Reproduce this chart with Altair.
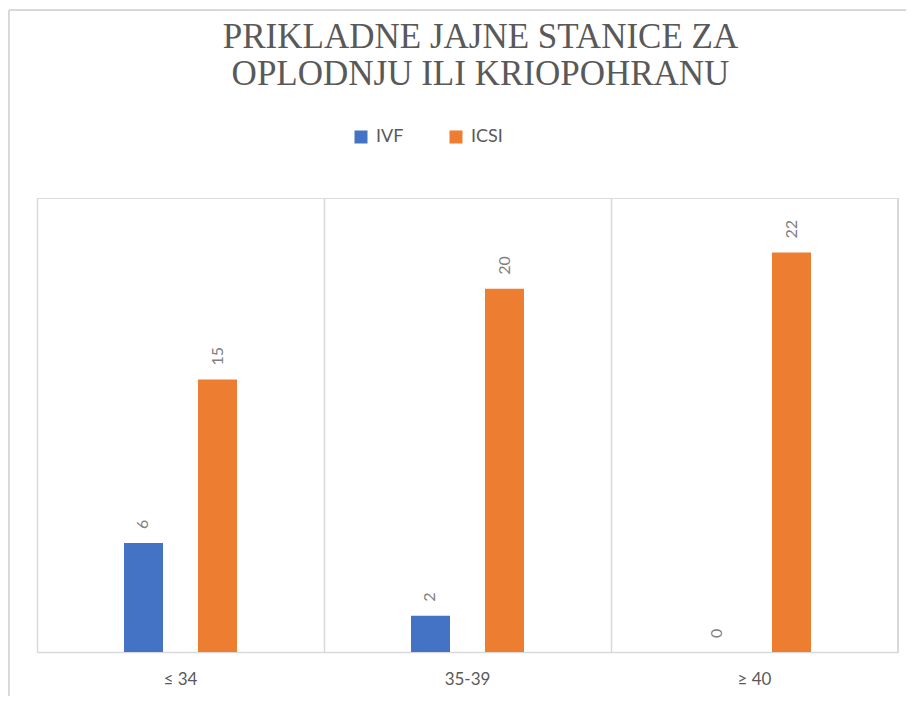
import altair as alt
import pandas as pd

categories = ["≤ 34", "35-39", "≥ 40"]
series = ["IVF", "ICSI"]
ivf_values = [6, 2, 0]
icsi_values = [15, 20, 22]

rows = []
for c, v in zip(categories, ivf_values):
    rows.append({"grupa": c, "serija": "IVF", "vrijednost": v})
for c, v in zip(categories, icsi_values):
    rows.append({"grupa": c, "serija": "ICSI", "vrijednost": v})
df = pd.DataFrame(rows)

W, H = 861, 454
GRID = "#d9d9d9"

x_enc = alt.X(
    "grupa:N",
    sort=categories,
    title=None,
    scale=alt.Scale(paddingInner=0, paddingOuter=0),
    axis=alt.Axis(
        labelAngle=0,
        labelFont="Lato",
        labelFontSize=17,
        labelColor="#595959",
        labelPadding=19,
        ticks=False,
        domainColor=GRID,
        domainWidth=1.5,
        grid=True,
        gridColor=GRID,
        gridWidth=1.5,
        bandPosition=0,
    ),
)
xoff_enc = alt.XOffset(
    "serija:N",
    sort=series,
    scale=alt.Scale(paddingInner=0, paddingOuter=0.939),
)
y_enc = alt.Y(
    "vrijednost:Q",
    title=None,
    scale=alt.Scale(domain=[0, 25], nice=False),
    axis=None,
)
color_enc = alt.Color(
    "serija:N",
    sort=series,
    title=None,
    scale=alt.Scale(domain=series, range=["#4472C4", "#ED7D31"]),
    legend=alt.Legend(
        orient="none",
        legendX=315,
        legendY=-70,
        direction="horizontal",
        symbolType="square",
        symbolSize=169,
        symbolStrokeWidth=0,
        labelFont="Lato",
        labelFontSize=18,
        labelColor="#595959",
        labelOffset=6,
        columnPadding=43,
        padding=0,
    ),
)

base = alt.Chart(df)

bars = base.mark_bar(width=39).encode(
    x=x_enc, xOffset=xoff_enc, y=y_enc, color=color_enc
)

labels = base.mark_text(
    angle=270,
    align="left",
    baseline="middle",
    dx=14,
    font="Lato",
    fontSize=16,
    color="#808080",
).encode(
    x=x_enc, xOffset=xoff_enc, y=y_enc, text="vrijednost:Q"
)

right_line = alt.Chart(df).mark_rule(color=GRID, strokeWidth=1.5).encode(
    x=alt.value(W), y=alt.value(0), y2=alt.value(H)
)
frame_left = alt.Chart(df).mark_rule(color=GRID, strokeWidth=2).encode(
    x=alt.value(-28), y=alt.value(-188), y2=alt.value(H + 60)
)
frame_top = alt.Chart(df).mark_rule(color=GRID, strokeWidth=2).encode(
    x=alt.value(-28), x2=alt.value(W + 60), y=alt.value(-188)
)

chart = (
    alt.layer(bars, labels, right_line, frame_left, frame_top)
    .properties(
        width=W,
        height=H,
        autosize=alt.AutoSizeParams(type="none"),
        padding={"left": 29, "top": 190, "right": 8, "bottom": 44},
        title=alt.TitleParams(
            text=["PRIKLADNE JAJNE STANICE ZA", "OPLODNJU ILI KRIOPOHRANU"],
            font="Liberation Serif",
            fontSize=35,
            fontWeight="normal",
            color="#595959",
            lineHeight=37,
            anchor="middle",
            dx=13,
            offset=-83,
        ),
    )
    .configure_view(stroke=None)
    .configure(background="white")
)

chart.save("out.html", embed_options={"renderer": "svg", "actions": False})
